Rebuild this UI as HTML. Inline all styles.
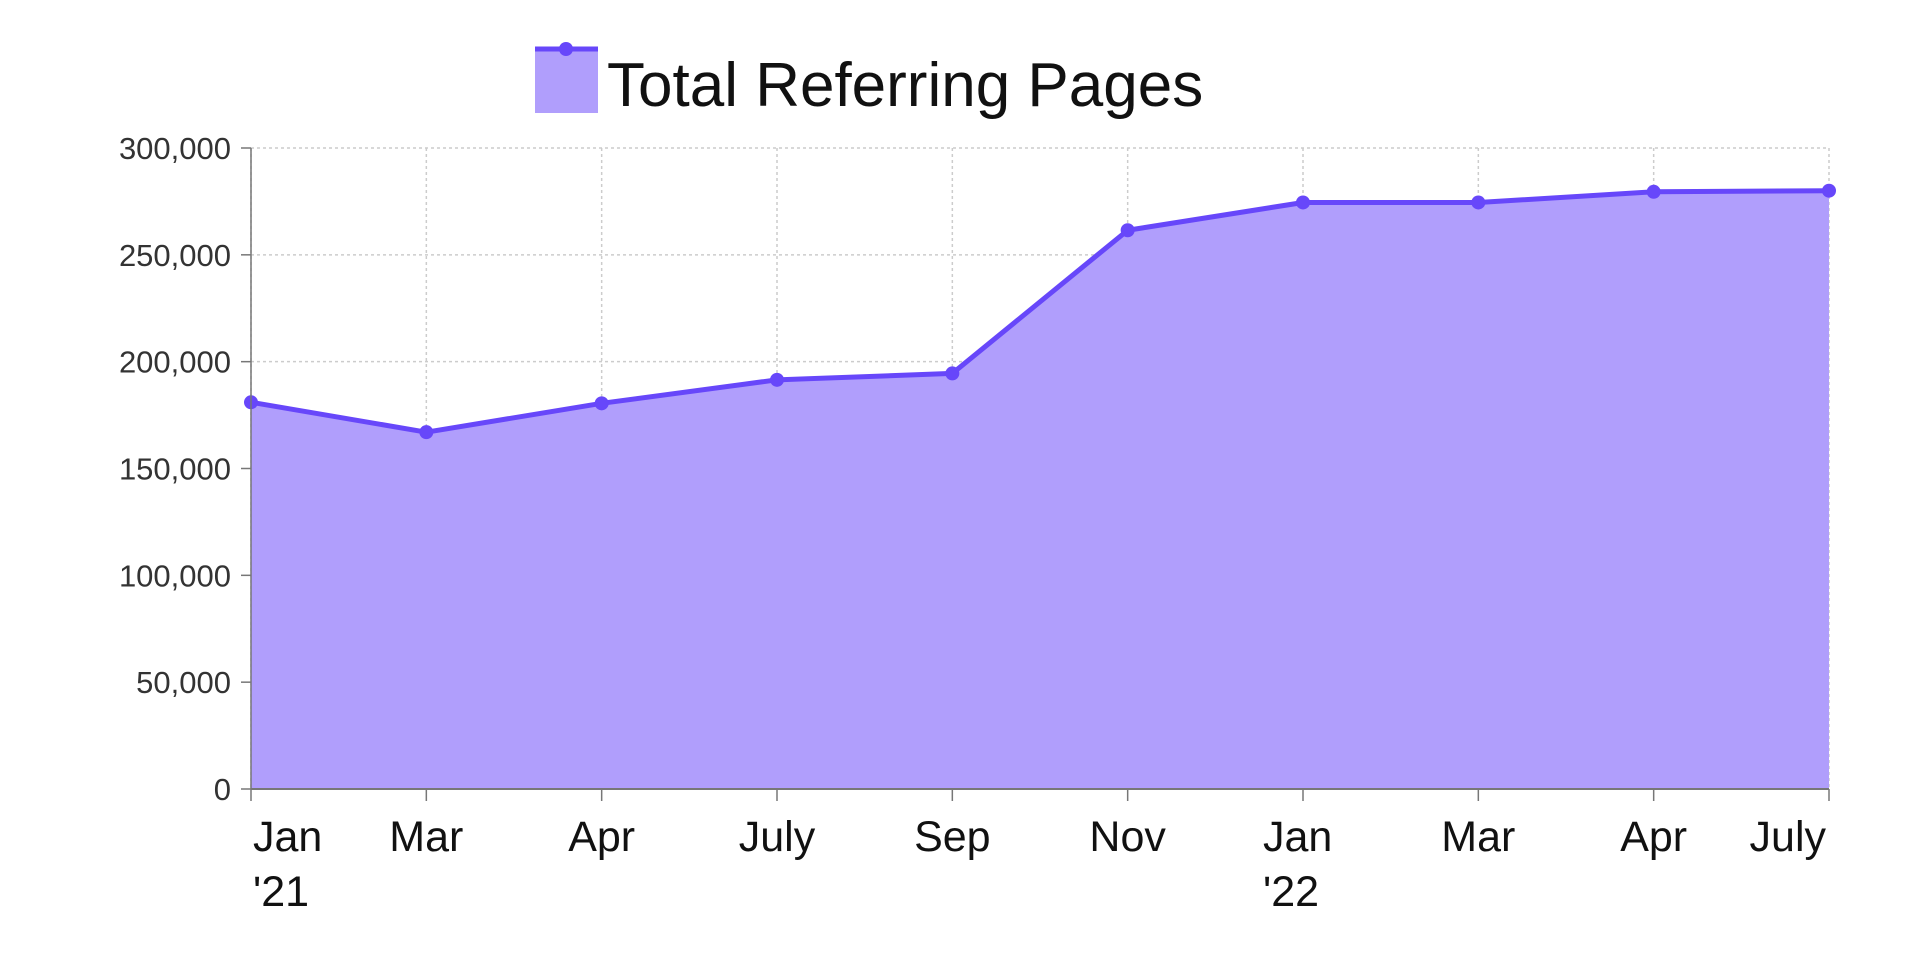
<!DOCTYPE html>
<html><head><meta charset="utf-8"><style>
html,body{margin:0;padding:0;background:#fff;}
svg{display:block;font-family:"Liberation Sans",sans-serif;}
</style></head><body>
<svg id="chart" width="1920" height="965" viewBox="0 0 1920 965">
<g>
<rect x="535" y="47" width="63" height="66" fill="#b09efc"/>
<line x1="535" y1="49" x2="598" y2="49" stroke="#6747fa" stroke-width="5"/>
<circle cx="566" cy="49" r="7" fill="#6747fa"/>
<text x="607" y="106" font-size="62" fill="#111">Total Referring Pages</text>
</g>
<g id="grid"></g><g id="area"></g><g id="axes"></g><g id="labels"></g>
</svg>
<script>
const categories = ["Jan|'21","Mar","Apr","July","Sep","Nov","Jan|'22","Mar","Apr","July"];
const values = [181000,167000,180500,191500,194500,261500,274500,274500,279500,280000];
const yTicks = [0,50000,100000,150000,200000,250000,300000];
const yTickLabels = ["0","50,000","100,000","150,000","200,000","250,000","300,000"];

const NS="http://www.w3.org/2000/svg";
const L=251,R=1829,T=148,B=789,yMax=300000;
const xs=i=>L+(R-L)*i/(categories.length-1);
const ys=v=>B-(B-T)*v/yMax;
function mk(tag,attrs,parent){const e=document.createElementNS(NS,tag);for(const k in attrs)e.setAttribute(k,attrs[k]);parent.appendChild(e);return e;}
const grid=document.getElementById('grid'),area=document.getElementById('area'),axes=document.getElementById('axes'),labels=document.getElementById('labels');

yTicks.forEach((t,i)=>{
  const y=ys(t);
  const g=mk('line',{x1:L,x2:R,y1:y,y2:y,stroke:'#ccc','stroke-width':1.5,'stroke-dasharray':'3,3'},grid);
  
  
  const tk=mk('line',{x1:L-10,x2:L,y1:y,y2:y,stroke:'#777','stroke-width':1.5},axes);
  
  
  const tx=mk('text',{x:231,y:y+11,'text-anchor':'end','font-size':31,fill:'#333'},labels);
  tx.textContent=yTickLabels[i];
  
  
});
categories.forEach((c,i)=>{
  const x=xs(i);
  const g=mk('line',{x1:x,x2:x,y1:T,y2:B,stroke:'#ccc','stroke-width':1.5,'stroke-dasharray':'3,3'},grid);
  
  
  const tk=mk('line',{x1:x,x2:x,y1:B,y2:B+12,stroke:'#777','stroke-width':1.5},axes);
  
  
  const parts=c.split('|');
  let anchor='middle',tx0=x;
  if(i===0){anchor='start';tx0=x+2;}
  if(i===categories.length-1){anchor='end';tx0=x-3;}
  parts.forEach((p,j)=>{
    const t=mk('text',{x:tx0,y:851+j*55,'text-anchor':(parts.length>1?'start':anchor),'font-size':43,fill:'#111'},labels);
    if(parts.length>1&&i!==0)t.setAttribute('x',x-40);
    t.textContent=p;
    
    
  });
});
let d='M'+xs(0)+','+B;
values.forEach((v,i)=>{d+=' L'+xs(i)+','+ys(v);});
d+=' L'+xs(values.length-1)+','+B+' Z';
const ap=mk('path',{d:d,fill:'#b09efc'},area);


const ln=mk('polyline',{points:values.map((v,i)=>xs(i)+','+ys(v)).join(' '),fill:'none',stroke:'#6747fa','stroke-width':5,'stroke-linejoin':'round'},area);


values.forEach((v,i)=>{
  const c=mk('circle',{cx:xs(i),cy:ys(v),r:7,fill:'#6747fa'},area);
  
  
});
const ya=mk('line',{x1:L,x2:L,y1:T,y2:B,stroke:'#777','stroke-width':1.5},axes);


const xa=mk('line',{x1:L,x2:R,y1:B,y2:B,stroke:'#777','stroke-width':2},axes);


</script>
</body></html>
